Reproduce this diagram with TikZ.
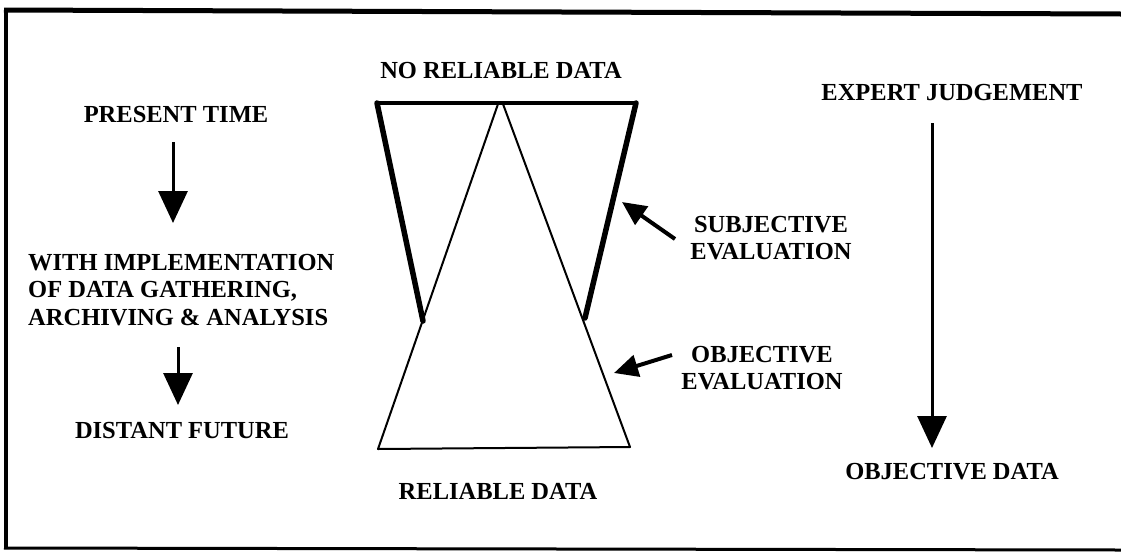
\documentclass[tikz,border=0pt]{standalone}
\usepackage{fontspec}
\setmainfont{Liberation Serif}
\usetikzlibrary{arrows.meta}
\tikzset{
  lbl/.style={font=\fontsize{24.5}{27.5}\selectfont\bfseries, inner sep=0pt},
  bigarrow/.style={line width=3pt, -{Triangle[length=32pt,width=29pt]}},
  diagarrow/.style={line width=4pt, -{Triangle[length=24pt,width=22pt]}},
  thick edge/.style={line width=5.5pt, line cap=round},
  thin edge/.style={line width=2pt, line cap=round},
  frame/.style={line width=4pt}
}
\begin{document}
\begin{tikzpicture}[x=1pt,y=-1pt]
\useasboundingbox (0,0) rectangle (1121,555);
\fill[white] (0,0) rectangle (1121,555);
% frame
\coordinate (ftl) at (6,10);
\coordinate (ftr) at (1121,14);
\coordinate (fbl) at (6,548);
\coordinate (fbr) at (1121,550);
\draw[line width=5pt] (4,10) -- (ftr);
\draw[line width=3.5pt] (ftl) -- (fbl);
\draw[line width=3pt] (4,548) -- (fbr);

% hourglass coordinates
\coordinate (tl) at (377,103);
\coordinate (tr) at (636,103);
\coordinate (apexL) at (498,104);
\coordinate (apexR) at (503,104);
\coordinate (ml) at (423,321);
\coordinate (mr) at (585,318);
\coordinate (bl) at (378,449);
\coordinate (br) at (630,447);

\draw[thin edge] (apexL) -- (bl);
\draw[thin edge] (apexR) -- (br);
\draw[thin edge] (bl) -- (br);
\draw[line width=4.5pt] (tl) -- (tr);
\draw[thick edge] (tl) -- (ml);
\draw[thick edge] (tr) -- (mr);

% top / bottom labels
\node[lbl] (noreliable) at (501,71) {NO RELIABLE DATA};
\node[lbl] (reliable) at (498,491) {RELIABLE DATA};

% evaluation labels
\node[lbl, align=center] (subj) at (771,238) {SUBJECTIVE\\EVALUATION};
\node[lbl, align=center] (obj) at (762,368) {OBJECTIVE\\EVALUATION};
\coordinate (subjtip) at (622,202);
\coordinate (objtip) at (614,373);
\draw[diagarrow] (675,239) -- (subjtip);
\draw[diagarrow] (672,355) -- (objtip);

% left column
\node[lbl] (present) at (176,115) {PRESENT TIME};
\node[lbl, align=left, anchor=west] (impl) at (28,290) {WITH IMPLEMENTATION\\OF DATA GATHERING,\\ARCHIVING \& ANALYSIS};
\node[lbl] (distant) at (182,430) {DISTANT FUTURE};
\draw[bigarrow] (173,142) -- (173,223);
\draw[bigarrow] (178,347) -- (178,405);

% right column
\node[lbl] (expert) at (952,93) {EXPERT JUDGEMENT};
\node[lbl] (objdata) at (952,472) {OBJECTIVE DATA};
\draw[bigarrow] (932,123) -- (932,448);
\end{tikzpicture}
\end{document}
